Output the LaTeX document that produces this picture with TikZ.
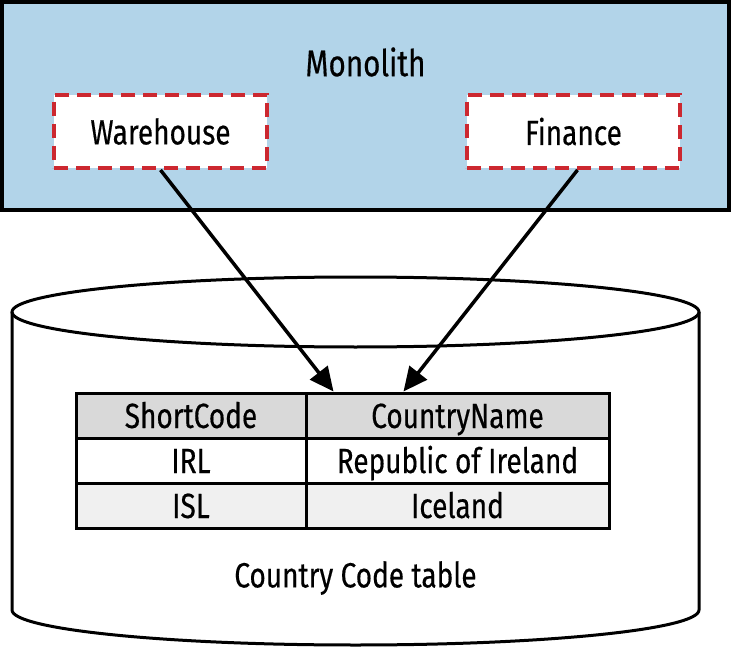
\documentclass[tikz,border=0pt]{standalone}
\usepackage{fontspec}
\setmainfont[FakeStretch=0.8,FakeBold=0.4]{Fira Sans}
\usetikzlibrary{arrows.meta}
\definecolor{monoblue}{RGB}{178,212,233}
\definecolor{dashred}{RGB}{204,40,48}
\definecolor{headgray}{RGB}{217,217,217}
\definecolor{rowgray}{RGB}{240,240,240}

\tikzset{
  module/.style = {
    draw           = dashred,
    line width     = 4pt,
    dash pattern   = on 14pt off 8pt,
    fill           = white,
    minimum width  = 213pt,
    minimum height = 73pt,
    inner sep      = 0pt,
    font           = \fontsize{35}{42}\selectfont
  },
  cell/.style = {
    draw           = black,
    line width     = 3pt,
    minimum height = 45pt,
    text height    = 28pt,
    text depth     = 3pt,
    inner sep      = 0pt,
    font           = \fontsize{35}{42}\selectfont
  },
  caption/.style = {
    inner sep      = 0pt,
    font           = \fontsize{35}{42}\selectfont
  },
  link/.style = {
    line width     = 3.5pt,
    -{Triangle[length=24pt,width=22pt]}
  }
}

\begin{document}
\begin{tikzpicture}[x=1pt,y=-1pt]
  \useasboundingbox (0,0) rectangle (731,647);

  \node[
    draw           = black,
    line width     = 3.5pt,
    fill           = monoblue,
    minimum width  = 727pt,
    minimum height = 208pt
  ] (mono) at (365.5,106) {};
  \node[caption, font=\fontsize{37}{44}\selectfont] (monotitle) at (365.5,62) {Monolith};

  \node[module] (wh)  at (160.5,131.5) {Warehouse};
  \node[module] (fin) at (573.5,131.5) {Finance};

  \draw[line width=3pt, fill=white]
    (12,312) -- (12,610)
    arc[start angle=180, end angle=360, x radius=343.5pt, y radius=35pt]
    -- (699,312);
  \draw[line width=3pt] (355.5,312) ellipse [x radius=343.5pt, y radius=35pt];
  \node[caption] (dbname) at (355.5,578) {Country Code table};

  \node[cell, fill=headgray, minimum width=230pt] (codeh) at (191,415.5) {ShortCode};
  \node[cell, fill=headgray, minimum width=303pt] (nameh) at (457.5,415.5) {CountryName};
  \node[cell, fill=white,    minimum width=230pt] (code1) at (191,460.5) {IRL};
  \node[cell, fill=white,    minimum width=303pt] (name1) at (457.5,460.5) {Republic of Ireland};
  \node[cell, fill=rowgray,  minimum width=230pt] (code2) at (191,505.5) {ISL};
  \node[cell, fill=rowgray,  minimum width=303pt] (name2) at (457.5,505.5) {Iceland};

  \draw[link] (wh.south)  -- ([xshift=29pt]nameh.north west);
  \draw[link] ([xshift=4pt]fin.south) -- ([xshift=99pt]nameh.north west);
\end{tikzpicture}
\end{document}
